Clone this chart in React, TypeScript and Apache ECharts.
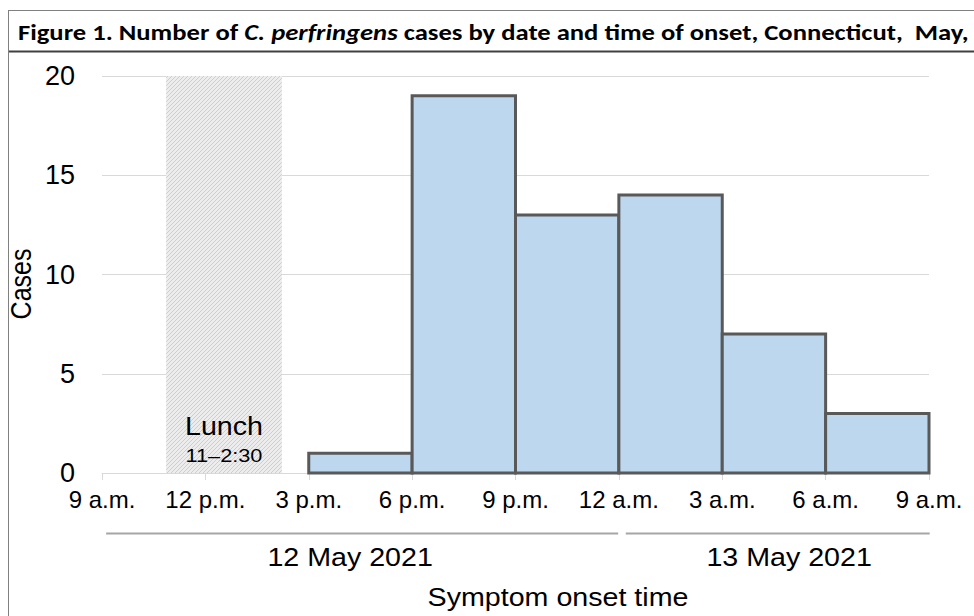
import React, { useEffect, useRef } from "react";
import * as echarts from "echarts";

// ---- data ----
const tickLabels = ["9 a.m.", "12 p.m.", "3 p.m.", "6 p.m.", "9 p.m.", "12 a.m.", "3 a.m.", "6 a.m.", "9 a.m."];
// hours after 9 a.m. on 12 May 2021
const binStarts = [6, 9, 12, 15, 18, 21];
const binEnds = [9, 12, 15, 18, 21, 24];
const cases = [1, 19, 13, 14, 7, 3];
const lunchSpan = [1.86, 5.22];
const lunchLabels = ["Lunch", "11–2:30"];
const dateLabels = ["12 May 2021", "13 May 2021"];
const dateSpanStart = [0.12, 15.2];
const dateSpanEnd = [14.98, 24.02];
const dateLabelCenter = [7.2, 19.94];
const yTicks = { min: 0, max: 20, interval: 5 };
const xTicks = { min: 0, max: 24, interval: 3 };

const FONT = "'Liberation Sans', Arial, sans-serif";
const STRETCH = 1.145;

function makeHatch(): HTMLCanvasElement {
  const c = document.createElement("canvas");
  c.width = 4;
  c.height = 4;
  const ctx = c.getContext("2d")!;
  ctx.fillStyle = "#ededed";
  ctx.fillRect(0, 0, 4, 4);
  ctx.strokeStyle = "#cdcdcd";
  ctx.lineWidth = 1;
  ctx.beginPath();
  ctx.moveTo(0, 4);
  ctx.lineTo(4, 0);
  ctx.moveTo(-1, 1);
  ctx.lineTo(1, -1);
  ctx.moveTo(3, 5);
  ctx.lineTo(5, 3);
  ctx.stroke();
  return c;
}

export default function App() {
  const ref = useRef<HTMLDivElement>(null);
  useEffect(() => {
    if (!ref.current) return;
    const chart = echarts.init(ref.current, undefined, { renderer: "svg" });
    const hatch = makeHatch();

    const barData = cases.map((v, i) => [binStarts[i], binEnds[i], v]);
    const lunchData = [[lunchSpan[0], lunchSpan[1], yTicks.max]];
    const dateData = dateLabels.map((_, i) => [dateSpanStart[i], dateSpanEnd[i], dateLabelCenter[i]]);

    chart.setOption({
      animation: false,
      backgroundColor: "#ffffff",
      grid: { left: 102, right: 45, top: 76, bottom: 143 },
      xAxis: {
        type: "value",
        min: xTicks.min,
        max: xTicks.max,
        interval: xTicks.interval,
        axisLine: { show: true, lineStyle: { color: "#d9d9d9", width: 1 } },
        axisTick: { show: true, length: 7, lineStyle: { color: "#d9d9d9" } },
        splitLine: { show: false },
        axisLabel: {
          margin: 14,
          fontSize: 24,
          fontFamily: FONT,
          color: "#000",
          formatter: (v: number) => tickLabels[Math.round(v / xTicks.interval)] ?? "",
        },
      },
      yAxis: {
        type: "value",
        min: yTicks.min,
        max: yTicks.max,
        interval: yTicks.interval,
        axisLine: { show: false },
        axisTick: { show: false },
        splitLine: { show: true, lineStyle: { color: "#d9d9d9", width: 1 } },
        axisLabel: { margin: 27, fontSize: 27, fontFamily: FONT, color: "#000" },
      },
      graphic: [
        { type: "line", shape: { x1: 8, y1: 10.5, x2: 974, y2: 10.5 }, style: { stroke: "#808080", lineWidth: 1 } },
        { type: "line", shape: { x1: 8, y1: 51.5, x2: 974, y2: 51.5 }, style: { stroke: "#404040", lineWidth: 2 } },
        { type: "line", shape: { x1: 8.5, y1: 10, x2: 8.5, y2: 616 }, style: { stroke: "#808080", lineWidth: 1 } },
        {
          type: "text",
          x: 18,
          y: 33,
          scaleX: 1.21,
          style: {
            text: "{b|Figure 1. Number of }{i|C. perfringens}{b| cases by date and time of onset, Connecticut,  May,}",
            verticalAlign: "middle",
            align: "left",
            rich: {
              b: { fontFamily: "Carlito, Calibri, Lato, sans-serif", fontWeight: "bold", fontSize: 22, fill: "#000" },
              i: { fontFamily: "Carlito, Calibri, Lato, sans-serif", fontWeight: "bold", fontStyle: "italic", fontSize: 22, fill: "#000" },
            },
          },
        },
        {
          type: "text",
          x: 21.5,
          y: 284,
          rotation: Math.PI / 2,
          scaleY: STRETCH,
          style: { text: "Cases", align: "center", verticalAlign: "middle", fontSize: 25, fontFamily: FONT, fill: "#000" },
        },
        {
          type: "text",
          x: 558,
          y: 598,
          scaleX: STRETCH,
          style: { text: "Symptom onset time", align: "center", verticalAlign: "middle", fontSize: 25, fontFamily: FONT, fill: "#000" },
        },
      ],
      series: [
        {
          type: "custom",
          name: "Lunch",
          z: 1,
          data: lunchData,
          encode: { x: [0, 1], y: 2 },
          renderItem: (params: any, api: any) => {
            const p0 = api.coord([api.value(0), api.value(2)]);
            const p1 = api.coord([api.value(1), 0]);
            const cx = (p0[0] + p1[0]) / 2;
            return {
              type: "group",
              children: [
                {
                  type: "rect",
                  shape: { x: p0[0], y: p0[1], width: p1[0] - p0[0], height: p1[1] - p0[1] },
                  style: { fill: { image: hatch, repeat: "repeat", imageWidth: 4, imageHeight: 4 } },
                },
                {
                  type: "text",
                  x: cx,
                  y: p1[1] - 46.5,
                  scaleX: STRETCH,
                  style: { text: lunchLabels[0], align: "center", verticalAlign: "middle", fontSize: 25, fontFamily: FONT, fill: "#000" },
                },
                {
                  type: "text",
                  x: cx,
                  y: p1[1] - 18,
                  scaleX: STRETCH,
                  style: { text: lunchLabels[1], align: "center", verticalAlign: "middle", fontSize: 19, fontFamily: FONT, fill: "#000" },
                },
              ],
            };
          },
        },
        {
          type: "custom",
          name: "Cases",
          z: 3,
          data: barData,
          encode: { x: [0, 1], y: 2 },
          renderItem: (params: any, api: any) => {
            const p0 = api.coord([api.value(0), api.value(2)]);
            const p1 = api.coord([api.value(1), 0]);
            return {
              type: "rect",
              shape: { x: p0[0], y: p0[1], width: p1[0] - p0[0], height: p1[1] - p0[1] },
              style: { fill: "#BDD7EE", stroke: "#595959", lineWidth: 3 },
            };
          },
        },
        {
          type: "custom",
          name: "Dates",
          z: 2,
          clip: false,
          data: dateData,
          encode: { x: [0, 1] },
          renderItem: (params: any, api: any) => {
            const a = api.coord([api.value(0), 0]);
            const b = api.coord([api.value(1), 0]);
            const c = api.coord([api.value(2), 0]);
            return {
              type: "group",
              children: [
                {
                  type: "line",
                  shape: { x1: a[0], y1: a[1] + 60.5, x2: b[0], y2: b[1] + 60.5 },
                  style: { stroke: "#a6a6a6", lineWidth: 2 },
                },
                {
                  type: "text",
                  x: c[0],
                  y: c[1] + 85,
                  scaleX: STRETCH,
                  style: {
                    text: dateLabels[params.dataIndex],
                    align: "center",
                    verticalAlign: "middle",
                    fontSize: 25,
                    fontFamily: FONT,
                    fill: "#000",
                  },
                },
              ],
            };
          },
        },
      ],
    });
    return () => chart.dispose();
  }, []);
  return <div ref={ref} style={{ position: "absolute", left: 0, top: 0, width: 974, height: 616 }} />;
}
